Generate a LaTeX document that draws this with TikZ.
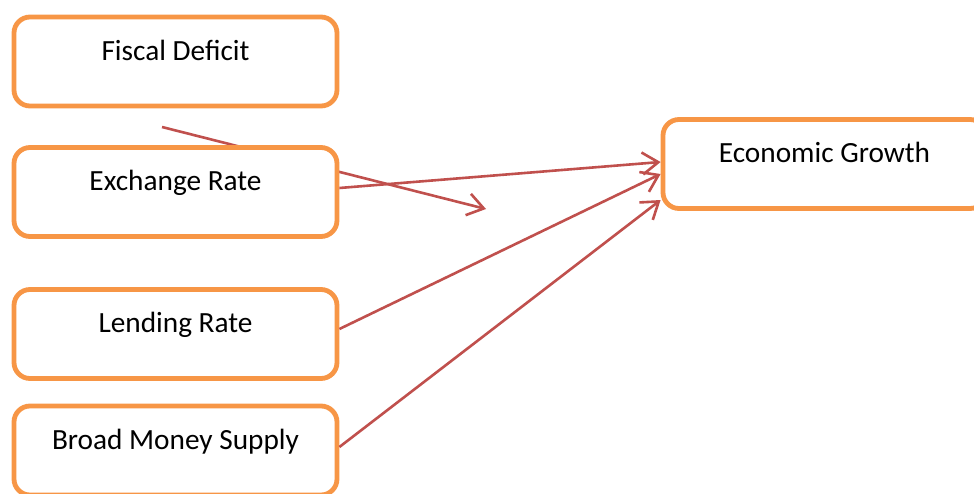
\documentclass[tikz,border=0pt]{standalone}
\usepackage{fontspec}
\setmainfont{Carlito}
\usetikzlibrary{arrows.meta}
\definecolor{boxorange}{HTML}{F79646}
\definecolor{arrred}{HTML}{C0504D}
\begin{document}
\begin{tikzpicture}[x=1pt,y=-1pt,
  box/.style={draw=boxorange, line width=4.8pt, rounded corners=16pt, fill=white,
    minimum width=323pt, minimum height=89pt, inner sep=0pt,
    font=\fontsize{29.3}{35}\selectfont, text height=20pt, text depth=23pt},
  conn/.style={draw=arrred, line width=2.6pt, -{Straight Barb[length=16pt,width=22pt]}}]
\useasboundingbox (0,0) rectangle (974,493);
\clip (0,0) rectangle (974,493);
\coordinate (fs) at (162,127);
\coordinate (fe) at (486,209);
\draw[conn] (fs) -- (fe);
\node[box] (fd) at (175.5,61.5) {Fiscal Deficit};
\node[box] (ex) at (175.5,192) {Exchange Rate};
\node[box] (lr) at (175.5,334) {Lending Rate};
\node[box] (bm) at (175.5,450.5) {Broad Money Supply};
\node[box] (eg) at (824.5,164) {Economic Growth};
\draw[conn] ([yshift=4pt]ex.east) -- ([yshift=2pt]eg.west);
\draw[conn] ([yshift=5pt]lr.east) -- ([yshift=-10pt]eg.west);
\draw[conn] ([yshift=3.5pt]bm.east) -- ([yshift=-36pt]eg.west);
\end{tikzpicture}
\end{document}
